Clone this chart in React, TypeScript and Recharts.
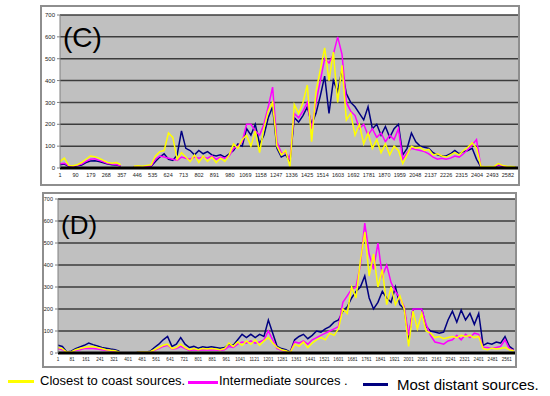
import React from "react";
import { LineChart, Line, XAxis, YAxis, CartesianGrid } from "recharts";

const STEP = 25;

const ticksC = [1, 90, 179, 268, 357, 446, 535, 624, 713, 802, 891, 980, 1069, 1158, 1247, 1336, 1425, 1514, 1603, 1692, 1781, 1870, 1959, 2048, 2137, 2226, 2315, 2404, 2493, 2582];
const ticksD = [1, 81, 161, 241, 321, 401, 481, 561, 641, 721, 801, 881, 961, 1041, 1121, 1201, 1281, 1361, 1441, 1521, 1601, 1681, 1761, 1841, 1921, 2001, 2081, 2161, 2241, 2321, 2401, 2481, 2561];
const yTicks = [0, 100, 200, 300, 400, 500, 600, 700];

// Panel C
const closestC = [30, 45, 12, 10, 15, 25, 40, 55, 52, 45, 35, 25, 22, 25, 15, null, null, 8, 10, 8, 12, 15, 55, 75, 80, 160, 140, 40, 70, 50, 30, 60, 25, 55, 30, 50, 25, 45, 30, 60, 110, 90, 130, 150, 100, 170, 70, 180, 260, 300, 100, 60, 80, 5, 290, 250, 300, 380, 120, 350, 450, 550, 400, 530, 300, 470, 220, 250, 150, 200, 110, 160, 90, 130, 70, 110, 60, 100, 80, 20, 60, 100, 90, 95, 80, 85, 60, 65, 55, 50, 60, 70, 60, 80, 95, 115, 90, 8, 6, 7, 6, 20, 12, 8, 7, 6];
const interC = [20, 22, 10, 8, 12, 18, 30, 40, 42, 35, 28, 20, 18, 16, 10, null, null, 6, 7, 6, 8, 10, 40, 55, 50, 45, 40, 35, 50, 45, 40, 50, 45, 50, 45, 55, 40, 50, 45, 55, 90, 100, 120, 200, 200, 170, 150, 200, 280, 370, 120, 70, 70, 40, 250, 230, 260, 300, 180, 300, 400, 500, 480, 520, 600, 520, 300, 260, 240, 180, 200, 150, 180, 140, 160, 120, 150, 130, 180, 40, 70, 90, 85, 80, 75, 65, 50, 40, 45, 40, 45, 55, 50, 65, 85, 105, 130, 6, 5, 5, 5, 15, 10, 6, 5, 5];
const distantC = [15, 18, 8, 6, 10, 14, 25, 32, 33, 30, 24, 18, 15, 14, 9, null, null, 5, 6, 5, 6, 8, 30, 50, 65, 40, 35, 60, 170, 90, 80, 60, 80, 65, 75, 60, 55, 60, 50, 65, 80, 110, 100, 180, 150, 200, 110, 150, 230, 280, 90, 50, 60, 30, 230, 210, 240, 280, 200, 250, 330, 420, 250, 400, 350, 450, 340, 300, 280, 250, 220, 280, 180, 200, 150, 190, 140, 180, 200, 60, 90, 160, 120, 100, 95, 90, 70, 60, 55, 55, 65, 80, 65, 75, 80, 90, 40, 5, 4, 5, 4, 12, 8, 5, 4, 4];

// Panel D
const closestD = [25, 20, 4, 5, 15, 20, 25, 28, 30, 25, 20, 15, 12, 10, 5, null, null, null, 3, 5, 4, 6, 15, 25, 35, 40, 20, 25, 40, 25, 15, 20, 15, 20, 18, 20, 18, 15, 20, 45, 30, 50, 35, 55, 40, 60, 35, 55, 70, 45, 25, 15, 10, 3, 40, 30, 50, 25, 45, 60, 70, 60, 90, 80, 110, 200, 180, 300, 250, 420, 550, 350, 450, 300, 380, 220, 300, 220, 260, 200, 30, 190, 110, 180, 100, 90, 70, 75, 65, 70, 75, 70, 80, 75, 80, 70, 75, 20, 15, 22, 18, 20, 25, 15, 10];
const interD = [20, 15, 3, 4, 12, 15, 20, 22, 20, 18, 15, 12, 10, 8, 4, null, null, null, 2, 3, 3, 5, 12, 20, 30, 35, 18, 20, 30, 20, 12, 15, 12, 15, 14, 15, 14, 12, 15, 30, 25, 40, 50, 45, 55, 45, 50, 60, 100, 60, 20, 12, 8, 2, 50, 45, 55, 40, 60, 70, 80, 90, 100, 110, 120, 230, 260, 290, 300, 400, 590, 450, 380, 500, 350, 400, 320, 280, 250, 210, 80, 200, 200, 200, 130, 80, 50, 45, 40, 55, 60, 80, 60, 85, 70, 90, 85, 25, 25, 20, 25, 30, 60, 20, 12];
const distantD = [35, 30, 5, 8, 20, 28, 35, 45, 38, 32, 25, 22, 18, 15, 8, null, null, null, 3, 4, 4, 8, 25, 40, 60, 75, 30, 40, 70, 40, 25, 30, 22, 28, 25, 28, 25, 22, 25, 40, 35, 60, 85, 70, 85, 70, 85, 75, 150, 90, 30, 20, 15, 4, 60, 75, 85, 65, 80, 100, 95, 110, 120, 140, 150, 190, 210, 250, 280, 300, 350, 250, 200, 230, 280, 250, 230, 300, 220, 200, 60, 200, 200, 200, 120, 100, 95, 90, 95, 150, 190, 140, 195, 150, 180, 130, 180, 35, 45, 40, 50, 45, 75, 30, 15];

const build = (a: (number | null)[], b: (number | null)[], c: (number | null)[]) =>
  a.map((v, i) => ({ x: 1 + i * STEP, closest: v, inter: b[i], distant: c[i] }));

const dataC = build(closestC, interC, distantC);
const dataD = build(closestD, interD, distantD);

const FONT = "'Liberation Sans', Arial, sans-serif";

type PanelProps = {
  data: any[];
  ticks: number[];
  domainMax: number;
  top: number;
  left: number;
  right: number;
  plotBottom: number;
  xFont: number;
  yFont: number;
};

function Panel({ data, ticks, domainMax, top, left, right, plotBottom, xFont, yFont }: PanelProps) {
  const xh = 16;
  return (
    <div style={{ position: "absolute", left: 0, top: 0 }}>
      <LineChart
        width={550}
        height={plotBottom + xh}
        data={data}
        margin={{ top, left, right, bottom: 0 }}
      >
        <CartesianGrid vertical={false} stroke="#3c3c3c" strokeWidth={1.5} fill="#c0c0c0" />
        <XAxis
          type="number"
          dataKey="x"
          domain={[1, domainMax]}
          ticks={ticks}
          interval={0}
          allowDataOverflow
          height={xh}
          axisLine={{ stroke: "#000", strokeWidth: 3 }}
          tickLine={false}
          tickSize={4}
          tickMargin={1}
          tick={{ fontSize: xFont, fill: "#222", fontFamily: FONT }}
        />
        <YAxis
          type="number"
          domain={[0, 700]}
          ticks={yTicks}
          interval={0}
          width={20}
          axisLine={{ stroke: "#808080" }}
          tickLine={{ stroke: "#808080" }}
          tickSize={3}
          tickMargin={2}
          tick={{ fontSize: yFont, fill: "#222", fontFamily: FONT }}
        />
        <Line dataKey="distant" stroke="#000080" strokeWidth={1.5} dot={false} isAnimationActive={false} type="linear" />
        <Line dataKey="inter" stroke="#ff00ff" strokeWidth={1.5} dot={false} isAnimationActive={false} type="linear" />
        <Line dataKey="closest" stroke="#ffff00" strokeWidth={1.5} dot={false} isAnimationActive={false} type="linear" />
      </LineChart>
    </div>
  );
}

const box = (l: number, t: number, w: number, h: number): React.CSSProperties => ({
  position: "absolute",
  left: l,
  top: t,
  width: w,
  height: h,
  border: "2px solid #8e8e8e",
  boxSizing: "border-box",
  background: "#fff",
});

const legendText: React.CSSProperties = {
  position: "absolute",
  fontFamily: FONT,
  fontSize: 13,
  lineHeight: "15px",
  color: "#000",
  whiteSpace: "nowrap",
};

export default function App() {
  return (
    <div style={{ position: "absolute", left: 0, top: 0, width: 550, height: 396, background: "#fff", overflow: "hidden" }}>
      <div style={box(40, 5, 480, 181)} />
      <div style={box(42, 192, 475, 176)} />
      <Panel data={dataC} ticks={ticksC} domainMax={2640} top={15} left={40} right={32} plotBottom={168} xFont={5.5} yFont={6} />
      <Panel data={dataD} ticks={ticksD} domainMax={2608} top={199} left={38} right={35} plotBottom={353} xFont={4.6} yFont={5.5} />
      <div style={{ position: "absolute", left: 63, top: 22, fontFamily: FONT, fontSize: 28, lineHeight: "32px" }}>(C)</div>
      <div style={{ position: "absolute", left: 61, top: 210, fontFamily: FONT, fontSize: 26, lineHeight: "30px" }}>(D)</div>

      <div style={{ position: "absolute", left: 8, top: 380, width: 26, height: 3, background: "#ffff00" }} />
      <div style={{ ...legendText, left: 40, top: 373 }}>Closest to coast sources.</div>
      <div style={{ position: "absolute", left: 188, top: 381, width: 30, height: 3, background: "#ff00ff" }} />
      <div style={{ ...legendText, left: 219, top: 373 }}>Intermediate sources .</div>
      <div style={{ position: "absolute", left: 363, top: 383, width: 25, height: 3, background: "#000080" }} />
      <div style={{ ...legendText, left: 397, top: 376, fontSize: 15, lineHeight: "17px" }}>Most distant sources.</div>
    </div>
  );
}
